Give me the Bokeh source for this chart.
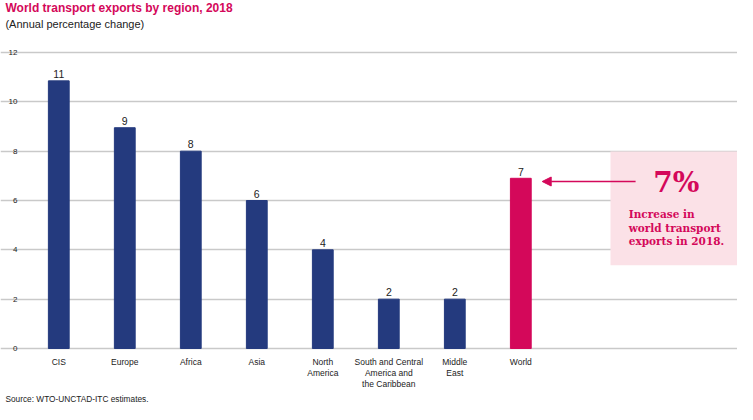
from bokeh.plotting import figure
from bokeh.models import ColumnDataSource, FixedTicker, Range1d, BoxAnnotation, Arrow, NormalHead, Grid
from bokeh.core.properties import value
from bokeh.embed import file_html
from bokeh.resources import INLINE

# ---- data ----
regions = ["CIS", "Europe", "Africa", "Asia", "North\nAmerica",
           "South and Central\nAmerica and\nthe Caribbean", "Middle\nEast", "World"]
growth = [10.85, 8.95, 8.0, 6.0, 4.0, 2.0, 2.0, 6.9]
value_labels = ["11", "9", "8", "6", "4", "2", "2", "7"]
y_ticks = [0, 2, 4, 6, 8, 10, 12]

title_text = "World transport exports by region, 2018"
subtitle_text = "(Annual percentage change)"
source_text = "Source: WTO-UNCTAD-ITC estimates."
callout_big = "7%"
callout_lines = ["Increase in", "world transport", "exports in 2018."]

NAVY = "#243a7e"
CRIMSON = "#d4085a"
PINK = "#fbe1e7"
GRID = "#c9c9c9"
TXT = "#222222"
FONT = "Liberation Sans"
SERIF = "DejaVu Serif"

# ---- layout (data units of the single full-canvas frame) ----
X_MIN, X_MAX = -0.883, 10.283
Y_MIN, Y_MAX = -2.270, 14.108
LEFT_X = -0.808          # left edge of title / subtitle / source
TICK_X = -0.626          # right edge of y tick labels
GRID_BOUNDS = (-0.535, 7.485)

idx = list(range(len(regions)))
colors = [NAVY] * (len(regions) - 1) + [CRIMSON]

src = ColumnDataSource(dict(x=idx, top=growth, color=colors, label=value_labels,
                            region=regions, base=[0] * len(regions)))

p = figure(width=737, height=404, output_backend="svg", toolbar_location=None, title=None,
           x_range=Range1d(X_MIN, X_MAX), y_range=Range1d(Y_MIN, Y_MAX),
           x_axis_location=None, y_axis_location=None, min_border=0)
p.outline_line_color = None
p.background_fill_color = "white"
p.border_fill_color = "white"
p.center = [r for r in p.center if not isinstance(r, Grid)]

p.add_layout(Grid(dimension=1, ticker=FixedTicker(ticks=y_ticks), grid_line_color=GRID,
                  grid_line_width=1.3, bounds=GRID_BOUNDS))

p.vbar(x="x", top="top", bottom=0, width=0.315, color="color", source=src)
p.text(x="x", y="top", text="label", source=src, text_align="center",
       text_baseline="middle", y_offset=-6.7, text_font=value(FONT),
       text_font_size="10.5px", text_color=TXT)

# category labels
p.text(x="x", y="base", text="region", source=src, text_align="center",
       text_baseline="top", y_offset=8, text_font=value(FONT), text_font_size="8.5px",
       text_line_height=1.1, text_color=TXT)

# y tick labels
p.text(x=[TICK_X] * len(y_ticks), y=y_ticks, text=[str(t) for t in y_ticks],
       text_align="right", text_baseline="middle", text_font=value(FONT),
       text_font_size="8px", text_color=TXT)

# callout
p.add_layout(BoxAnnotation(left=8.359, right=10.4, bottom=3.378, top=7.984,
                           fill_color=PINK, fill_alpha=1.0, line_color=None, level="underlay"))
p.add_layout(Arrow(x_start=8.739, y_start=6.77, x_end=7.324, y_end=6.77,
                   line_color=CRIMSON, line_width=1.5,
                   end=NormalHead(size=9, fill_color=CRIMSON, line_color=CRIMSON)))
p.text(x=[9.356], y=[6.739], text=[callout_big], text_align="center", text_baseline="middle",
       text_font=value(SERIF), text_font_style="bold", text_font_size="28px", text_color=CRIMSON)
p.text(x=[8.636] * 3, y=[5.434, 4.897, 4.356], text=callout_lines, text_align="left",
       text_baseline="middle", text_font=value(SERIF), text_font_style="bold",
       text_font_size="10.5px", text_color=CRIMSON)

# title, subtitle, source
p.text(x=[LEFT_X], y=[13.784], text=[title_text], text_baseline="middle",
       text_font=value(FONT), text_font_style="bold", text_font_size="12px", text_color=CRIMSON)
p.text(x=[LEFT_X], y=[13.155], text=[subtitle_text], text_baseline="middle",
       text_font=value(FONT), text_font_size="11px", text_color=TXT)
p.text(x=[LEFT_X], y=[-2.047], text=[source_text], text_baseline="middle",
       text_font=value(FONT), text_font_size="8.3px", text_color=TXT)

open("out.html", "w").write(file_html(p, INLINE))
